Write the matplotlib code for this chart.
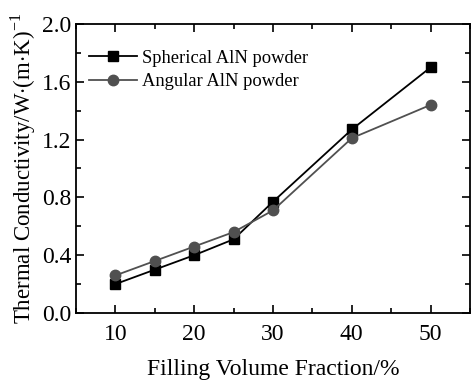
import matplotlib
matplotlib.use("Agg")
import matplotlib.pyplot as plt
from matplotlib.ticker import MultipleLocator

plt.rcParams['font.family'] = ['Liberation Serif', 'DejaVu Serif']
plt.rcParams['mathtext.fontset'] = 'custom'
plt.rcParams['mathtext.rm'] = 'Liberation Serif'

fraction = [10, 15, 20, 25, 30, 40, 50]
spherical = [0.20, 0.30, 0.40, 0.51, 0.77, 1.27, 1.70]
angular = [0.26, 0.36, 0.46, 0.56, 0.71, 1.21, 1.44]

fig = plt.figure(figsize=(4.71, 3.83), dpi=100)
ax = fig.add_axes([76/471, 1-313/383, 394/471, 289/383])

ax.plot(fraction, spherical, color='black', marker='s', markersize=7, lw=1.3,
        label='Spherical AlN powder')
ax.plot(fraction, angular, color='#505050', marker='o', markersize=7.5, lw=1.3,
        label='Angular AlN powder')

ax.set_xlim(5, 55)
ax.set_ylim(0, 2.0)
ax.xaxis.set_major_locator(MultipleLocator(10))
ax.xaxis.set_minor_locator(MultipleLocator(5))
ax.yaxis.set_major_locator(MultipleLocator(0.4))
ax.yaxis.set_minor_locator(MultipleLocator(0.2))
ax.set_xticks([10, 20, 30, 40, 50])
ax.tick_params(which='both', direction='in', top=True, right=True, labelsize=17, width=1.2)
ax.tick_params(which='major', length=6)
ax.tick_params(which='minor', length=3.5)
ax.tick_params(axis='x', pad=8)
for s in ax.spines.values():
    s.set_linewidth(1.3)

ax.set_xlabel('Filling Volume Fraction/%', fontsize=17, labelpad=10)
ax.set_ylabel('Thermal Conductivity/W$\\cdot$(m$\\cdot$K)$^{-1}$', fontsize=16.5, labelpad=3)

ax.legend(loc='upper left', frameon=False, fontsize=13.3, handlelength=2.6,
          handletextpad=0.3, borderaxespad=0.3, labelspacing=0.35,
          bbox_to_anchor=(0.0, 0.955))

fig.savefig('out.png', dpi=100)
